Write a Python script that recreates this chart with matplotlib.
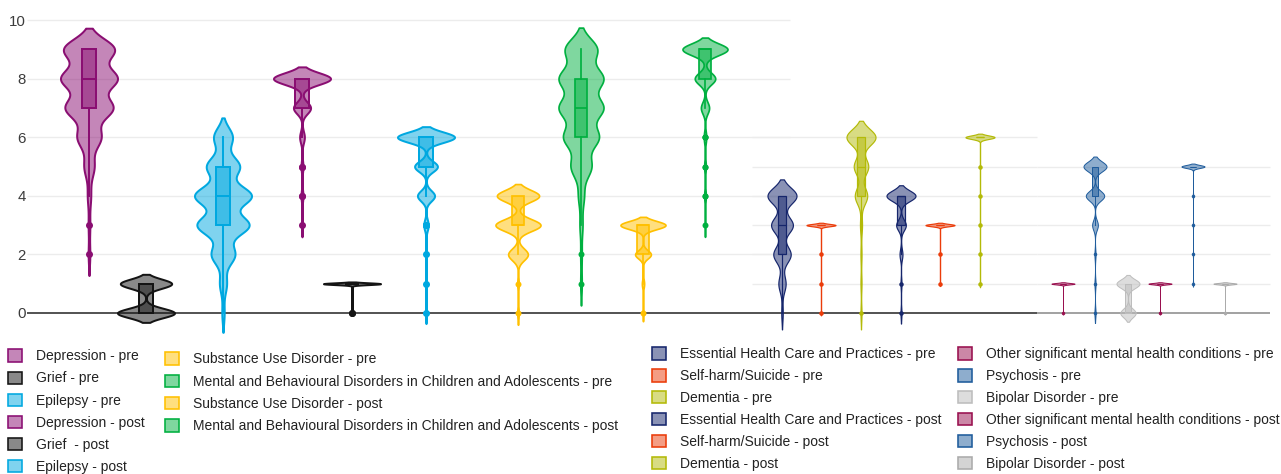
import numpy as np
import matplotlib
matplotlib.use("Agg")
import matplotlib.pyplot as plt
from matplotlib.patches import Patch
from matplotlib.colors import to_rgba

# ---------------- data (counts of respondents per score 0..10) ----------------
scores = np.arange(11)

series_labels = [
    "Depression - pre", "Grief - pre", "Epilepsy - pre",
    "Depression - post", "Grief  - post", "Epilepsy - post",
    "Substance Use Disorder - pre",
    "Mental and Behavioural Disorders in Children and Adolescents - pre",
    "Substance Use Disorder - post",
    "Mental and Behavioural Disorders in Children and Adolescents - post",
    "Essential Health Care and Practices - pre", "Self-harm/Suicide - pre", "Dementia - pre",
    "Essential Health Care and Practices - post", "Self-harm/Suicide - post", "Dementia - post",
    "Other significant mental health conditions - pre", "Psychosis - pre", "Bipolar Disorder - pre",
    "Other significant mental health conditions - post", "Psychosis - post", "Bipolar Disorder - post",
]

#                 0   1   2   3   4   5   6   7   8   9  10
depression_pre  = [0,  0,  1,  1,  2,  6, 14, 28, 33, 30,  0]
grief_pre       = [20, 18, 0,  0,  0,  0,  0,  0,  0,  0,  0]
epilepsy_pre    = [1,  3, 10, 22, 24, 14,  8,  0,  0,  0,  0]
depression_post = [0,  0,  0,  1,  2,  2,  5, 18, 60,  0,  0]
grief_post      = [2, 40,  0,  0,  0,  0,  0,  0,  0,  0,  0]
epilepsy_post   = [1,  1,  1,  4, 15, 20, 50,  0,  0,  0,  0]
substance_pre   = [1,  1, 14, 32, 30,  0,  0,  0,  0,  0,  0]
mbd_pre         = [0,  1,  1,  2,  4, 14, 24, 30, 30, 22,  0]
substance_post  = [1,  2, 14, 40,  0,  0,  0,  0,  0,  0,  0]
mbd_post        = [0,  0,  0,  1,  2,  2,  3, 10, 25, 55,  0]
ehc_pre         = [1,  5, 12, 15, 20,  0,  0,  0,  0,  0,  0]
selfharm_pre    = [1,  1,  1, 50,  0,  0,  0,  0,  0,  0,  0]
dementia_pre    = [1,  1,  1,  2, 12, 14, 28,  0,  0,  0,  0]
ehc_post        = [1,  1,  3, 10, 30,  0,  0,  0,  0,  0,  0]
selfharm_post   = [0,  1,  1, 50,  0,  0,  0,  0,  0,  0,  0]
dementia_post   = [0,  1,  1,  1,  1,  1, 50,  0,  0,  0,  0]
other_pre       = [1, 30,  0,  0,  0,  0,  0,  0,  0,  0,  0]
psychosis_pre   = [1,  1,  1,  5, 16, 20,  0,  0,  0,  0,  0]
bipolar_pre     = [8, 12,  0,  0,  0,  0,  0,  0,  0,  0,  0]
other_post      = [1, 30,  0,  0,  0,  0,  0,  0,  0,  0,  0]
psychosis_post  = [0,  1,  1,  1,  1, 40,  0,  0,  0,  0,  0]
bipolar_post    = [1, 20,  0,  0,  0,  0,  0,  0,  0,  0,  0]

series_counts = [
    depression_pre, grief_pre, epilepsy_pre, depression_post, grief_post, epilepsy_post,
    substance_pre, mbd_pre, substance_post, mbd_post,
    ehc_pre, selfharm_pre, dementia_pre, ehc_post, selfharm_post, dementia_post,
    other_pre, psychosis_pre, bipolar_pre, other_post, psychosis_post, bipolar_post,
]

yticks = [0, 2, 4, 6, 8, 10]

# ---------------- styles / layout ----------------
C_DEP, C_GRI, C_EPI = "#8A0E72", "#141414", "#00A8E0"
C_SUB, C_MBD = "#FFC000", "#00B040"
C_EHC, C_SH, C_DEM = "#16266C", "#EB3C0A", "#B3BA08"
C_OTH, C_PSY, C_BIP = "#99104F", "#1F5C9C", "#BDBDBD"
series_colors = [C_DEP, C_GRI, C_EPI, C_DEP, C_GRI, C_EPI,
                 C_SUB, C_MBD, C_SUB, C_MBD,
                 C_EHC, C_SH, C_DEM, C_EHC, C_SH, C_DEM,
                 C_OTH, C_PSY, C_BIP, C_OTH, C_PSY, "#ABABAB"]

# horizontal slot of each violin (x axis runs in figure pixels)
positions = [89, 146, 223, 302, 352, 426,
             518, 581, 643, 705,
             782, 821, 861, 901, 940, 980,
             1063, 1095, 1128, 1160, 1193, 1225]
group = [0] * 6 + [1] * 4 + [2] * 6 + [3] * 6
group_width = [57, 45, 29, 23]
group_lw_px = [2.0, 1.7, 1.2, 1.0]
group_dot_px = [7.0, 6.0, 4.5, 3.5]
bandwidths = [0.36, 0.16, 0.33, 0.20, 0.03, 0.18,
              0.20, 0.37, 0.14, 0.20,
              0.28, 0.04, 0.28, 0.18, 0.04, 0.06,
              0.025, 0.17, 0.15, 0.025, 0.05, 0.025]

W, H = 1281, 474
PX = 72.0 / 100.0  # points per pixel at dpi 100
Y0_PX, PX_PER_UNIT = 313.0, 29.3

plt.rcParams["font.family"] = ["Liberation Sans", "DejaVu Sans"]
fig = plt.figure(figsize=(W / 100, H / 100), dpi=100)
AX_LEFT = 27
ax = fig.add_axes([AX_LEFT / W, 0, (W - AX_LEFT) / W, 1])
ax.set_xlim(AX_LEFT, W)
ax.set_ylim(-(H - Y0_PX) / PX_PER_UNIT, Y0_PX / PX_PER_UNIT)
for s in ax.spines.values():
    s.set_visible(False)
ax.set_xticks([])
ax.set_yticks(yticks)
ax.set_yticklabels([str(t) for t in yticks])
ax.tick_params(axis="y", length=0, pad=1, labelsize=10.8, labelcolor="#3C3C3C")

# grid lines of the three stitched panels
grid_c = "#ECECEC"
ax.hlines([2, 4, 6, 8, 10], AX_LEFT, 790, colors=grid_c, lw=1.0, zorder=0.5)
ax.hlines([1, 2, 3, 4, 5, 6], 752, 1037, colors=grid_c, lw=1.0, zorder=0.5)
ax.hlines([1, 2, 3, 4, 5], 1037, 1270, colors=grid_c, lw=1.0, zorder=0.5)
ax.hlines(0, AX_LEFT, 1037, colors="#444444", lw=1.3, zorder=1)
ax.hlines(0, 1037, 1270, colors="#9A9A9A", lw=1.3, zorder=1)

# ---------------- violins ----------------
datasets = [np.repeat(scores, c) for c in series_counts]
vpstats = []
for d, bw in zip(datasets, bandwidths):
    coords = np.linspace(d.min() - 2 * bw, d.max() + 2 * bw, 3000)
    vals = np.exp(-0.5 * ((coords[:, None] - d[None, :]) / bw) ** 2).sum(axis=1)
    vpstats.append(dict(coords=coords, vals=vals, mean=d.mean(), median=np.median(d),
                        min=d.min(), max=d.max()))

widths = [group_width[g] for g in group]
parts = ax.violin(vpstats, positions=positions, widths=widths,
                  showmeans=False, showextrema=False, showmedians=False)
for body, col, g in zip(parts["bodies"], series_colors, group):
    body.set_alpha(None)
    body.set_facecolor(to_rgba(col, 0.5))
    body.set_edgecolor(col)
    body.set_linewidth(group_lw_px[g] * PX)
    body.set_zorder(2)

# ---------------- inner boxes ----------------
bp = ax.boxplot(datasets, positions=positions, widths=[w * 0.25 for w in widths],
                patch_artist=True, showcaps=False, whis=1.5, manage_ticks=False)
for i, (col, g) in enumerate(zip(series_colors, group)):
    lw = group_lw_px[g] * PX
    box = bp["boxes"][i]
    box.set_facecolor(to_rgba(col, 0.5))
    box.set_edgecolor(col)
    box.set_linewidth(lw)
    box.set_zorder(3)
    med = bp["medians"][i]
    med.set_color(col); med.set_linewidth(lw); med.set_zorder(3.1)
    for wk in bp["whiskers"][2 * i:2 * i + 2]:
        wk.set_color(col); wk.set_linewidth(lw); wk.set_zorder(3)
    fl = bp["fliers"][i]
    fl.set_marker("o")
    fl.set_markersize(group_dot_px[g] * PX)
    fl.set_markerfacecolor(col)
    fl.set_markeredgecolor(col)
    fl.set_markeredgewidth(0)
    fl.set_zorder(4)

# ---------------- legends ----------------
LEG_FS = 10.0

def add_legend(idx, x_px, top_px, spacing):
    handles = [Patch(facecolor=to_rgba(series_colors[i], 0.5), edgecolor=series_colors[i],
                     linewidth=1.6 * PX) for i in idx]
    fig.legend(handles, [series_labels[i] for i in idx], loc="upper left",
               bbox_to_anchor=(x_px / W, 1 - top_px / H), bbox_transform=fig.transFigure,
               frameon=False, borderpad=0, borderaxespad=0, handlelength=1.02,
               handleheight=0.97, handletextpad=1.02, labelspacing=spacing,
               prop=dict(family="Liberation Sans", size=LEG_FS), labelcolor="#222222")

add_legend([0, 1, 2, 3, 4, 5], 8, 349.3, 0.585)
add_legend([6, 7, 8, 9], 165, 352.3, 0.60)
add_legend([10, 11, 12, 13, 14, 15], 652, 347.3, 0.57)
add_legend([16, 17, 18, 19, 20, 21], 958, 347.3, 0.57)

fig.savefig("out.png", dpi=100)
